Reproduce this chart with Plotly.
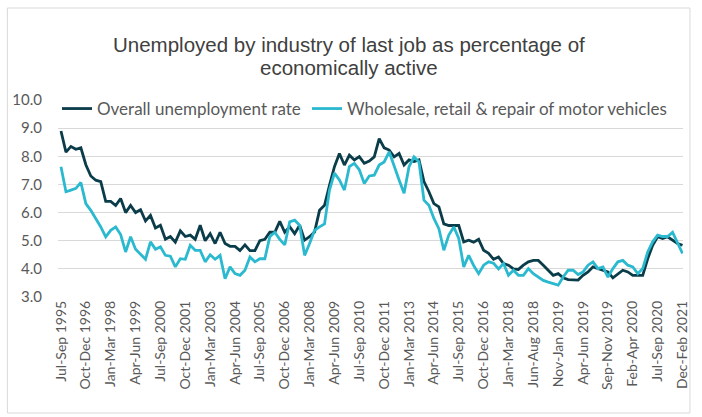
import plotly.graph_objects as go

# Category labels: quarterly Jul-Sep 1995 .. Jan-Mar 2018, then monthly rolling to Dec-Feb 2021
q_names = ["Jan-Mar", "Apr-Jun", "Jul-Sep", "Oct-Dec"]
m_abbr = ["Jan", "Feb", "Mar", "Apr", "May", "Jun", "Jul", "Aug", "Sep", "Oct", "Nov", "Dec"]

categories = []
yr, q = 1995, 2
while (yr, q) <= (2018, 0):
    categories.append(f"{q_names[q]} {yr}")
    q += 1
    if q == 4:
        q = 0
        yr += 1
for k in range(1, 36):
    s = k % 12
    e = (k + 2) % 12
    ye = 2018 + (k + 2) // 12
    categories.append(f"{m_abbr[s]}-{m_abbr[e]} {ye}")

overall = [
    8.9, 8.15, 8.35, 8.25, 8.3, 7.7, 7.3, 7.15, 7.1, 6.4, 6.4, 6.25, 6.5, 6.0, 6.25, 6.0, 6.1, 5.7, 5.9, 5.45, 5.55,
    5.05, 5.15, 4.95, 5.35, 5.15, 5.2, 5.05, 5.55, 5.0, 5.25, 4.9, 5.3, 4.9, 4.8, 4.8, 4.65, 4.85, 4.65, 4.65, 5.0,
    5.05, 5.3, 5.3, 5.69, 5.3, 5.5, 5.25, 5.55, 5.02, 5.14, 5.31, 6.08, 6.26, 6.97, 7.63, 8.1, 7.69, 8.04, 7.87, 7.99, 7.75,
    7.83, 7.98,
    8.63, 8.3, 8.22, 7.98, 8.1, 7.69, 7.87, 7.81, 7.87, 7.1, 6.74, 6.32, 6.2, 5.6, 5.54, 5.54, 5.54, 4.96, 5.02,
    4.95, 5.05, 4.66, 4.55, 4.34, 4.42, 4.19, 4.13, 4.0, 3.98, 4.13, 4.25, 4.3, 4.3, 4.13, 3.95, 3.77, 3.83, 3.68, 3.62, 3.6,
    3.6,
    3.77, 3.89, 4.07, 4.01, 3.95, 3.89, 3.68, 3.83, 3.95, 3.89, 3.77, 3.77, 3.77, 4.36, 4.84, 5.14, 5.08, 5.14, 5.02, 4.9, 4.84,
]

wholesale = [
    7.63, 6.74, 6.8, 6.86, 7.07, 6.32, 6.08, 5.79, 5.49, 5.14, 5.37, 5.49, 5.22, 4.6, 5.14, 4.7, 4.51, 4.34, 4.96, 4.7, 4.78,
    4.48, 4.45, 4.07, 4.36, 4.34, 4.84, 4.66, 4.66, 4.25, 4.5, 4.34, 4.48, 3.65, 4.07, 3.83, 3.77, 3.95, 4.42, 4.25, 4.36,
    4.36, 5.14, 5.3, 5.05, 4.85, 5.67, 5.73, 5.55, 4.48, 4.9, 5.37, 5.49, 5.6, 6.8, 7.4, 7.16, 6.8, 7.63, 7.75, 7.52, 7.03,
    7.3, 7.33,
    7.69, 7.8, 8.16, 7.63, 7.16, 6.69, 7.63, 7.98, 7.8, 6.44, 6.26, 5.79, 5.43, 4.66, 5.2, 5.49, 5.08, 4.07, 4.48,
    4.12, 3.83, 4.13, 4.25, 4.2, 4.0, 4.19, 3.77, 3.95, 3.77, 3.77, 4.01, 3.83, 3.71, 3.59, 3.53, 3.47, 3.42, 3.71, 3.95, 3.95,
    3.8,
    3.89, 4.13, 4.25, 4.01, 4.07, 3.71, 4.01, 4.25, 4.3, 4.13, 4.07, 3.83, 4.01, 4.6, 4.96, 5.2, 5.15, 5.15, 5.3, 4.95, 4.55,
]

y_ticks = [3.0, 4.0, 5.0, 6.0, 7.0, 8.0, 9.0, 10.0]
tick_labels_x = categories[::5]
title_lines = ["Unemployed by industry of last job as percentage of", "economically active"]

DARK = "#0b3c4a"
LIGHT = "#2bb9cf"
TXT = "#595959"
FONT = "Lato, Open Sans, sans-serif"
TFONT = "Liberation Sans Narrow, Liberation Sans, Arial"

L, R, T, B = 58, 688, 100, 297
W, H = 702, 417
pw, ph = R - L, B - T

fig = go.Figure()
fig.add_trace(go.Scatter(x=categories, y=overall, mode="lines", name="Overall unemployment rate",
                         line=dict(color=DARK, width=2.8), legend="legend"))
fig.add_trace(go.Scatter(x=categories, y=wholesale, mode="lines",
                         name="Wholesale, retail & repair of motor vehicles",
                         line=dict(color=LIGHT, width=2.8), legend="legend2"))

leg_common = dict(orientation="h", xanchor="left", y=1 + 9 / ph, yanchor="top",
                  font=dict(family=FONT, size=17, color=TXT), bgcolor="rgba(0,0,0,0)")

fig.update_layout(
    width=W, height=H,
    margin=dict(l=L, r=W - R, t=T, b=H - B),
    paper_bgcolor="white", plot_bgcolor="white",
    font=dict(family=FONT, color=TXT),
    showlegend=True,
    legend=dict(x=(57 - L) / pw, **leg_common),
    legend2=dict(x=(309 - L) / pw, **leg_common),
    xaxis=dict(type="category", tickmode="array", tickvals=tick_labels_x, ticktext=tick_labels_x,
               tickangle=-90, tickfont=dict(family=FONT, size=14, color=TXT),
               showgrid=False, showline=False, ticks="", range=[-0.6, 125.1], ticklabelstandoff=0),
    yaxis=dict(range=[3, 10], tickvals=y_ticks, tickformat=".1f",
               tickfont=dict(family=FONT, size=15, color=TXT),
               showgrid=True, gridcolor="#d9d9d9", gridwidth=1, zeroline=False, showline=False,
               ticks="", ticklabelstandoff=15),
)

for line_text, yc in zip(title_lines, [45, 67]):
    fig.add_annotation(text=line_text, xref="paper", yref="paper",
                       x=(351.5 - L) / pw, y=(B - yc) / ph, xanchor="center", yanchor="middle",
                       showarrow=False, font=dict(family=TFONT, size=20.5, color="#404040"))

fig.add_shape(type="rect", xref="paper", yref="paper",
              x0=(7 - L) / pw, x1=(695 - L) / pw, y0=(B - 413) / ph, y1=(B - 8) / ph,
              line=dict(color="#d9d9d9", width=1), fillcolor="rgba(0,0,0,0)", layer="below")

fig.write_html("out.html", config={"displayModeBar": False},
               post_script="document.body.style.margin='0px';")
